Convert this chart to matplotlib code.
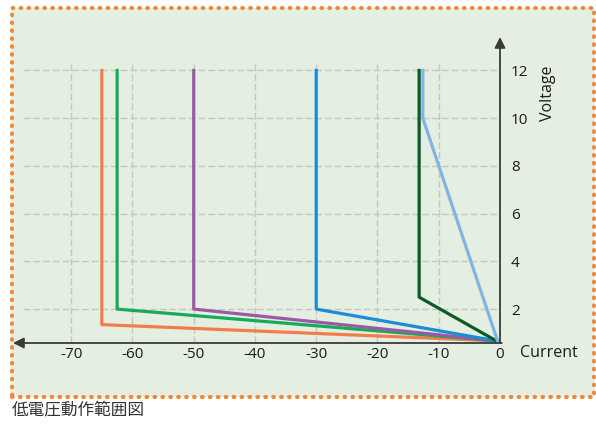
import matplotlib.pyplot as plt
from matplotlib.patches import Rectangle

plt.rcParams['font.family'] = ['Open Sans', 'Noto Sans CJK JP', 'DejaVu Sans']
plt.rcParams['axes.unicode_minus'] = False

# each curve: current (x) and voltage (y) points
orange_x = [-65, -65, -0.6]
orange_y = [12, 1.35, 0.67]
green_x = [-62.5, -62.5, -0.6]
green_y = [12, 2, 0.67]
purple_x = [-50, -50, -0.6]
purple_y = [12, 2, 0.67]
blue_x = [-30, -30, -0.6]
blue_y = [12, 2, 0.67]
dkgreen_x = [-13.2, -13.2, -0.6]
dkgreen_y = [12, 2.5, 0.67]
ltblue_x = [-12.6, -12.6, -0.4]
ltblue_y = [12, 10, 0.67]

xticks = [-70, -60, -50, -40, -30, -20, -10, 0]
yticks = [2, 4, 6, 8, 10, 12]
caption = "低電圧動作範囲図"

W, H = 596, 424
fig = plt.figure(figsize=(W / 100, H / 100), dpi=100)
fig.patch.set_facecolor('white')

# green panel with dotted orange border
fig.patches.append(Rectangle((12 / W, 1 - 397 / H), 582 / W, 389 / H,
                             transform=fig.transFigure, facecolor='#e5efe1',
                             edgecolor='#ec8a3c', linewidth=3.0,
                             linestyle=(0, (0.15, 1.75)), capstyle='round',
                             zorder=-10))

ax = fig.add_axes([13 / W, 1 - 343 / H, 487 / W, 306 / H])
ax.patch.set_alpha(0)
xmin, ymin, ymax = -79.5, 0.58, 13.4
ax.set_xlim(xmin, 0)
ax.set_ylim(ymin, ymax)
for s in ax.spines.values():
    s.set_visible(False)

# grid
ax.hlines(yticks, -77.8, 0, colors='#c6c6c6', linewidth=1, linestyles=(0, (5, 2)), zorder=1)
ax.vlines(xticks[:-1], ymin, 12.25, colors='#c6c6c6', linewidth=1, linestyles=(0, (5, 2)), zorder=1)

lw = 2.3
ax.plot(orange_x, orange_y, color='#f47c4c', lw=lw, zorder=3)
ax.plot(green_x, green_y, color='#16ab58', lw=lw, zorder=3)
ax.plot(purple_x, purple_y, color='#9a5aa6', lw=lw, zorder=3)
ax.plot(blue_x, blue_y, color='#1c8cd6', lw=lw, zorder=3)
ax.plot(dkgreen_x, dkgreen_y, color='#0b5a28', lw=lw, zorder=3)
ax.plot(ltblue_x, ltblue_y, color='#80b4e2', lw=lw, zorder=4)

# axes with arrows
arrow = dict(arrowstyle='-|>', color='#3a3a3a', lw=1.3, mutation_scale=16,
             shrinkA=0, shrinkB=0)
ax.annotate('', xy=(0, ymax), xytext=(0, ymin), arrowprops=arrow,
            annotation_clip=False, zorder=5)
ax.annotate('', xy=(xmin, ymin), xytext=(0.3, ymin), arrowprops=arrow,
            annotation_clip=False, zorder=5)

ax.yaxis.tick_right()
ax.set_yticks(yticks)
ax.set_xticks(xticks)
ax.tick_params(axis='both', length=0, labelsize=11, colors='#1a1a1a')
ax.tick_params(axis='y', pad=8)
ax.tick_params(axis='x', pad=3)

ax.text(520 / W, 1 - 353 / H, 'Current', transform=fig.transFigure,
        fontsize=11.5, color='#1a1a1a', va='center', ha='left')
ax.text(548 / W, 1 - 93 / H, 'Voltage', transform=fig.transFigure,
        fontsize=11.5, color='#1a1a1a', va='center', ha='center', rotation=90)

fig.text(12 / W, 1 - 410 / H, caption, fontsize=12, color='#333333',
         va='center', ha='left', family=['Noto Sans CJK JP', 'DejaVu Sans'])

fig.savefig('out.png', dpi=100)
